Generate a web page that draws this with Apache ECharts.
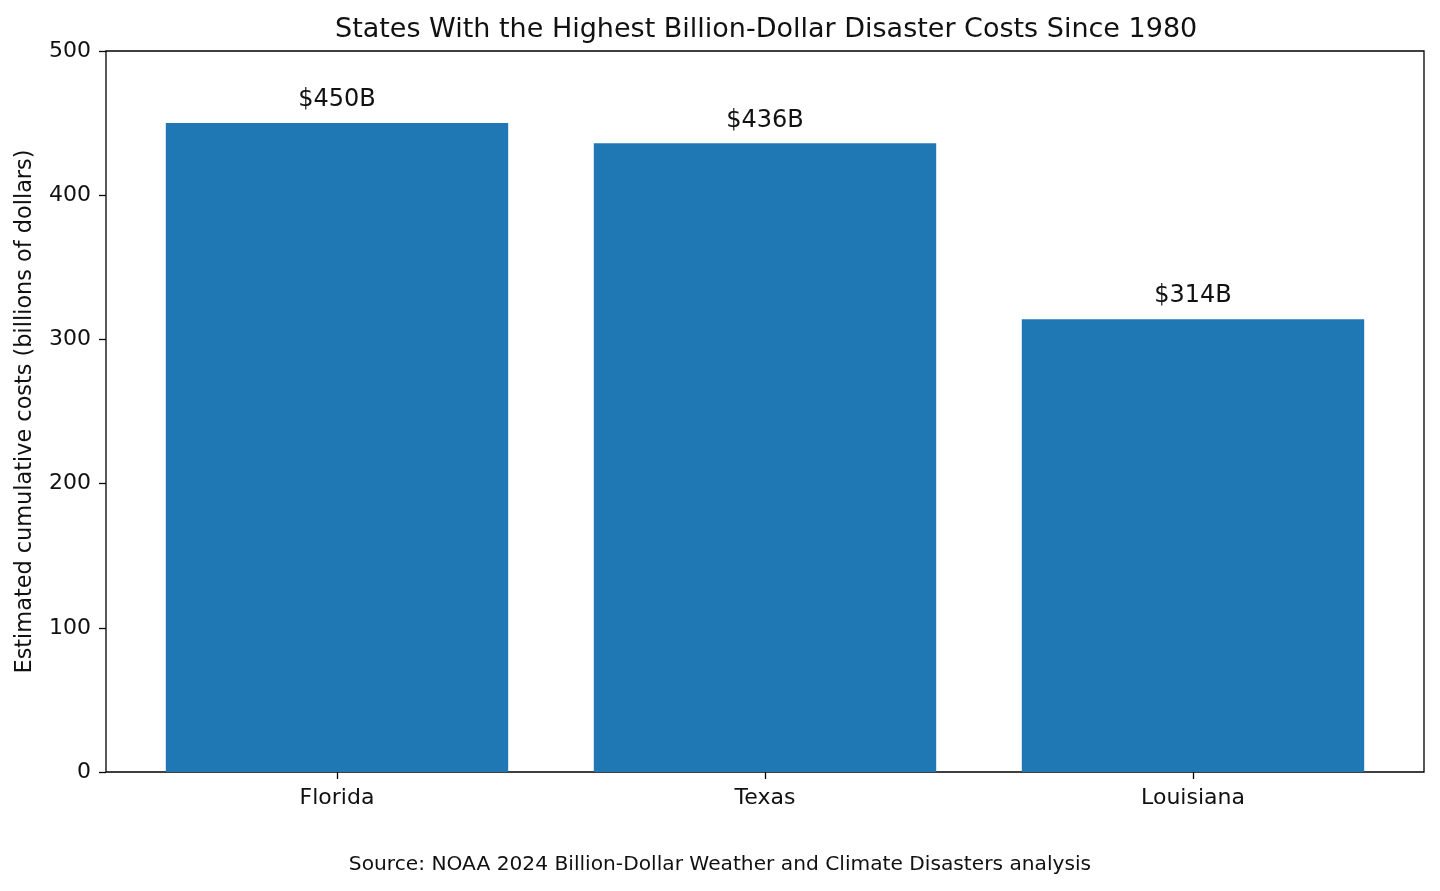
<!DOCTYPE html>
<html>
<head>
    <meta charset="utf-8">
    <script src="https://cdn.jsdelivr.net/npm/echarts@6/dist/echarts.min.js"></script>
    <style>
        html, body { margin: 0; padding: 0; background: #fff; }
    </style>
</head>
<body>
    <div id="main" style="width: 1440px;height:891px;"></div>
    <script type="text/javascript">

    var states = ['Florida', 'Texas', 'Louisiana'];
    var costs = [450, 436, 314];
    var yTicks = [0, 100, 200, 300, 400, 500];

    var font = 'DejaVu Sans';
    var ink = '#111';

    var myChart = echarts.init(document.getElementById('main'));

    myChart.setOption({
        animation: false,
        title: [
            {
                // centred over the plot frame, not the page
                text: 'States With the Highest Billion-Dollar Disaster Costs Since 1980',
                left: 330,
                top: 11,
                textStyle: { fontFamily: font, fontSize: 27, fontWeight: 'normal', color: ink }
            },
            {
                text: 'Source: NOAA 2024 Billion-Dollar Weather and Climate Disasters analysis',
                left: 'center',
                top: 850,
                textStyle: { fontFamily: font, fontSize: 20.2, fontWeight: 'normal', color: ink }
            }
        ],
        grid: [
            // frame + y axis
            { left: 106, right: 16, top: 51, bottom: 119, show: true, borderColor: '#000', borderWidth: 1.3, backgroundColor: 'transparent' },
            // bars, inset the way matplotlib pads the x range
            { left: 123, right: 33, top: 51, bottom: 119 }
        ],
        xAxis: [
            { gridIndex: 0, type: 'value', min: 0, max: 1, show: false },
            {
                gridIndex: 1,
                type: 'category',
                data: states,
                axisLine: { show: false },
                axisTick: { show: true, alignWithLabel: true, length: 7, lineStyle: { color: '#000', width: 1.3 } },
                axisLabel: { fontFamily: font, fontSize: 22, color: ink, margin: 15 }
            }
        ],
        yAxis: [
            {
                gridIndex: 0,
                type: 'value',
                min: yTicks[0],
                max: yTicks[yTicks.length - 1],
                interval: yTicks[1] - yTicks[0],
                name: 'Estimated cumulative costs (billions of dollars)',
                nameLocation: 'middle',
                nameGap: 70,
                nameTextStyle: { fontFamily: font, fontSize: 22.4, color: ink },
                axisLine: { show: false },
                axisTick: { show: true, length: 7, lineStyle: { color: '#000', width: 1.3 } },
                axisLabel: { fontFamily: font, fontSize: 22, color: ink, margin: 15 },
                splitLine: { show: false }
            },
            {
                gridIndex: 1,
                type: 'value',
                min: yTicks[0],
                max: yTicks[yTicks.length - 1],
                show: false,
                splitLine: { show: false }
            }
        ],
        series: [
            {
                type: 'bar',
                xAxisIndex: 1,
                yAxisIndex: 1,
                data: costs,
                barWidth: '80%',
                itemStyle: { color: '#1f77b4' },
                label: {
                    show: true,
                    position: 'top',
                    distance: 11,
                    fontFamily: font,
                    fontSize: 24,
                    color: ink,
                    formatter: function (p) { return '$' + p.value + 'B'; }
                }
            }
        ]
    });

</script>
</body>
</html>
